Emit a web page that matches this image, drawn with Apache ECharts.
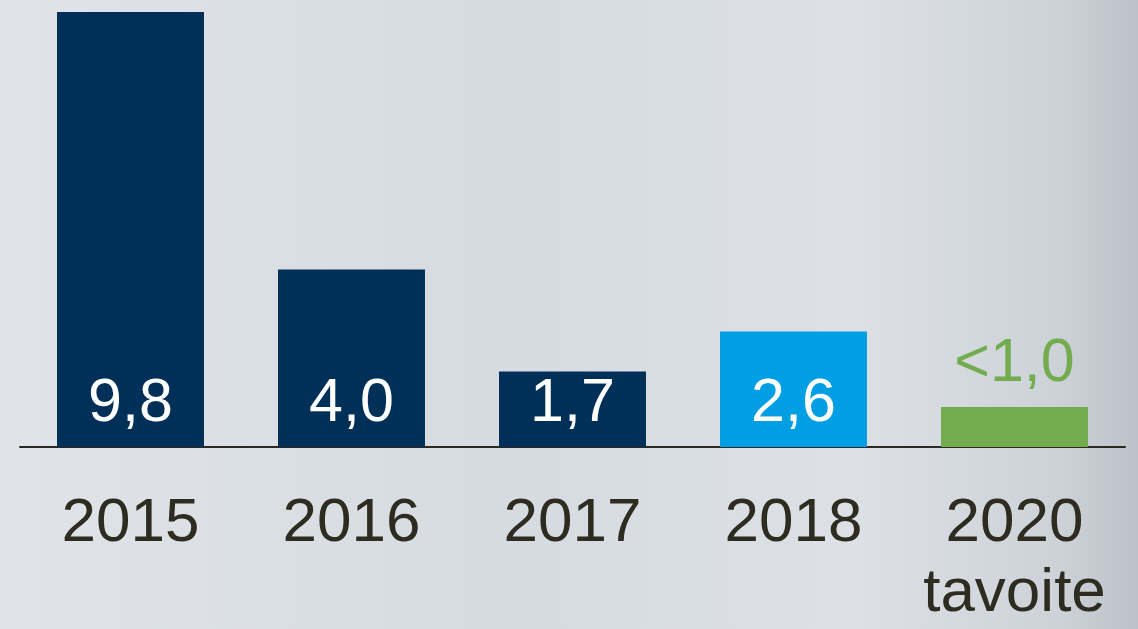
<!DOCTYPE html>
<html>
<head>
<meta charset="utf-8">
<script src="https://cdn.jsdelivr.net/npm/echarts@6/dist/echarts.min.js"></script>
<style>
  html, body { margin: 0; padding: 0; }
  #chart { width: 1138px; height: 629px; }
</style>
</head>
<body>
<div id="chart"></div>
<script>
// data
var years = ['2015', '2016', '2017', '2018', '2020\ntavoite'];
var values = [9.8, 4.0, 1.7, 2.6, 0.9];
var valueLabels = ['9,8', '4,0', '1,7', '2,6', '<1,0'];
var barColors = ['#003057', '#003057', '#003057', '#009fe3', '#72ac4f'];

var chart = echarts.init(document.getElementById('chart'));

var seriesData = values.map(function (v, i) {
  var isTarget = i === values.length - 1;
  return {
    value: v,
    itemStyle: { color: barColors[i] },
    label: isTarget
      ? { position: 'top', distance: 12, color: '#72ac4f' }
      : { position: 'insideBottom', distance: 12, color: '#ffffff' }
  };
});

var option = {
  backgroundColor: {
    type: 'linear', x: 0, y: 0, x2: 1, y2: 0,
    colorStops: [
      { offset: 0, color: '#e0e4e8' },
      { offset: 0.45, color: '#d6dbe1' },
      { offset: 0.75, color: '#dde1e6' },
      { offset: 0.93, color: '#cdd2d8' },
      { offset: 1, color: '#bcc2c9' }
    ]
  },
  grid: { left: 20, right: 13, top: 12, bottom: 177, containLabel: false },
  xAxis: {
    type: 'category',
    data: years,
    axisTick: { show: false },
    axisLine: { lineStyle: { color: '#2b2a22', width: 2 } },
    axisLabel: {
      interval: 0,
      margin: 42,
      fontFamily: 'Liberation Sans',
      fontSize: 62,
      lineHeight: 70,
      color: '#2e2b20'
    }
  },
  yAxis: {
    type: 'value',
    min: 0,
    max: 9.8,
    show: false,
    splitLine: { show: false }
  },
  series: [{
    type: 'bar',
    barCategoryGap: '33.5%',
    data: seriesData,
    label: {
      show: true,
      fontFamily: 'Liberation Sans',
      fontSize: 61,
      formatter: function (p) { return valueLabels[p.dataIndex]; }
    }
  }]
};

chart.setOption(option);
</script>
</body>
</html>
